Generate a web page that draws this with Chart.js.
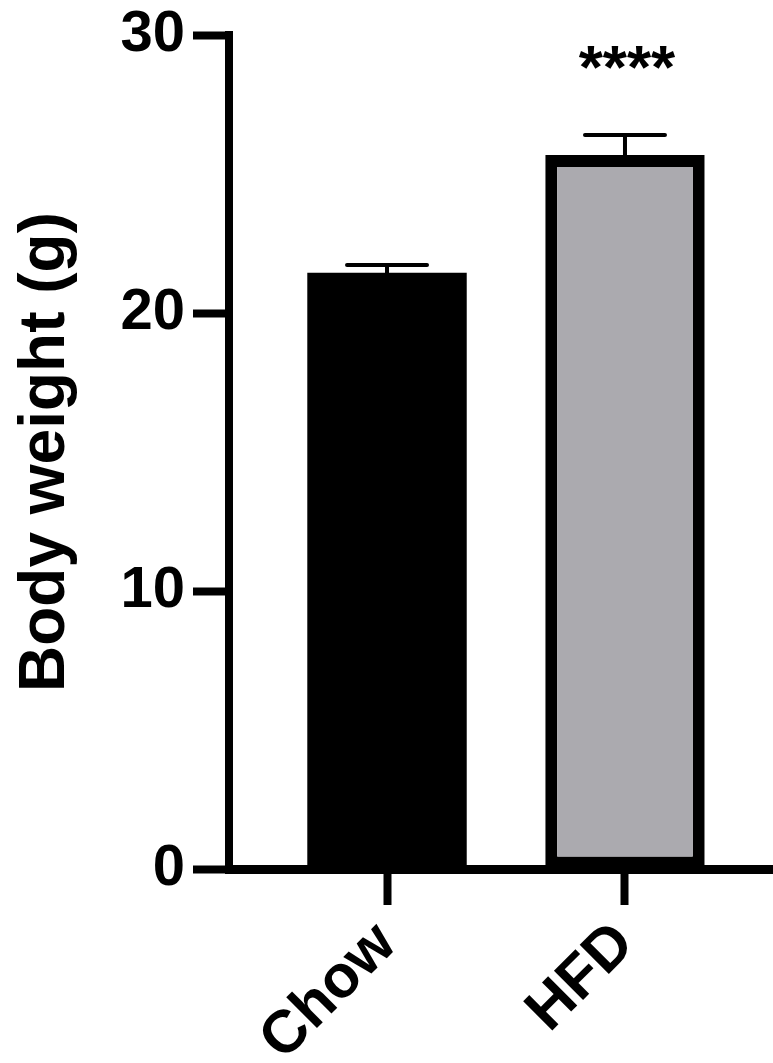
<!DOCTYPE html>
<html>
<head>
<meta charset="utf-8">
<script src="https://cdn.jsdelivr.net/npm/chart.js@4"></script>
<style>
    body { margin: 0; background: #fff; }
    #wrap { width: 773px; height: 1063px; }
</style>
</head>
<body>
<div id="wrap"><canvas id="bwChart"></canvas></div>
<script>
// ---- data ----
const groups = ['Chow', 'HFD'];
const groupPos = [1, 2];
const meanWeight = [21.45, 25.68];
const semWeight = [0.28, 0.72];
const yTicks = [0, 10, 20, 30];
const sigLabel = '****';
const sigLevel = 29.2;
const barColors = ['#000000', '#abaaaf'];

const FONT = '"Liberation Sans", Arial, Helvetica, sans-serif';

// error bars (mean + SEM, upward only) and the significance stars
const errorBars = {
    id: 'errorBars',
    afterDatasetsDraw(chart) {
        const ctx = chart.ctx;
        const xs = chart.scales.x;
        const ys = chart.scales.y;
        ctx.save();
        ctx.strokeStyle = '#000';
        ctx.lineWidth = 4;
        ctx.lineCap = 'round';
        groupPos.forEach((p, i) => {
            const px = xs.getPixelForValue(p);
            const base = ys.getPixelForValue(meanWeight[i]);
            const top = ys.getPixelForValue(meanWeight[i] + semWeight[i]);
            ctx.beginPath();
            ctx.moveTo(px, base);
            ctx.lineTo(px, top);
            ctx.moveTo(px - 40, top);
            ctx.lineTo(px + 40, top);
            ctx.stroke();
        });

        ctx.fillStyle = '#000';
        ctx.font = 'bold 62px ' + FONT;
        ctx.textAlign = 'center';
        ctx.textBaseline = 'alphabetic';
        const m = ctx.measureText(sigLabel);
        const sy = ys.getPixelForValue(sigLevel) + (m.actualBoundingBoxAscent - m.actualBoundingBoxDescent) / 2;
        ctx.fillText(sigLabel, xs.getPixelForValue(groupPos[1]) + 2, sy);
        ctx.restore();
    }
};

const ctx = document.getElementById('bwChart').getContext('2d');
new Chart(ctx, {
    type: 'bar',
    data: {
        datasets: [{
            data: groupPos.map((p, i) => ({ x: p, y: meanWeight[i] })),
            backgroundColor: barColors,
            borderColor: '#000',
            borderWidth: [0, 12],
            borderSkipped: false,
            barPercentage: 0.67,
            categoryPercentage: 1
        }]
    },
    options: {
        responsive: true,
        maintainAspectRatio: false,
        animation: false,
        layout: { padding: { top: 35, right: 0, left: 0, bottom: 0 } },
        plugins: {
            legend: { display: false },
            tooltip: { enabled: false }
        },
        scales: {
            x: {
                type: 'linear',
                min: 0.336,
                max: 2.622,
                offset: false,
                afterBuildTicks: (scale) => { scale.ticks = groupPos.map(v => ({ value: v })); },
                afterFit: (scale) => { scale.height = 194; },
                border: { color: '#000', width: 9 },
                grid: {
                    offset: false,
                    drawOnChartArea: false,
                    tickLength: 36,
                    tickWidth: 8,
                    tickColor: '#000'
                },
                ticks: {
                    autoSkip: false,
                    maxRotation: 45,
                    minRotation: 45,
                    padding: 4,
                    color: '#000',
                    font: { family: FONT, size: 60, weight: 'bold' },
                    callback: (v) => groups[groupPos.indexOf(v)]
                }
            },
            y: {
                min: yTicks[0],
                max: yTicks[yTicks.length - 1],
                afterBuildTicks: (scale) => { scale.ticks = yTicks.map(v => ({ value: v })); },
                afterFit: (scale) => {
                    scale.width = 229;
                    scale.paddingTop = 0;
                },
                border: { color: '#000', width: 8 },
                grid: {
                    drawOnChartArea: false,
                    tickLength: 36,
                    tickWidth: 8,
                    tickColor: '#000'
                },
                ticks: {
                    padding: 8,
                    color: '#000',
                    font: { family: FONT, size: 58, weight: 'bold' }
                },
                title: {
                    display: true,
                    text: 'Body weight (g)',
                    color: '#000',
                    padding: { top: 8, bottom: 0 },
                    font: { family: FONT, size: 64, weight: 'bold' }
                }
            }
        }
    },
    plugins: [errorBars]
});
</script>
</body>
</html>
